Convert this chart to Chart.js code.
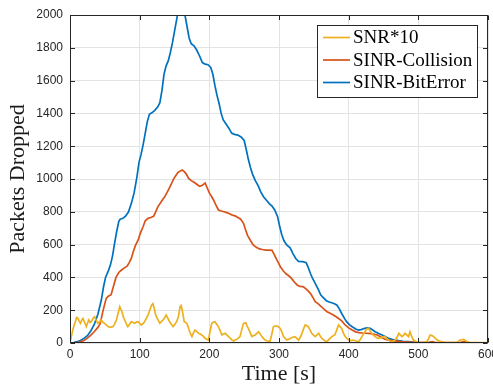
<!DOCTYPE html>
<html><head><meta charset="utf-8">
<script src="https://cdn.jsdelivr.net/npm/chart.js@4/dist/chart.umd.min.js"></script>
<style>html,body{margin:0;padding:0;background:#fff}</style>
</head><body>
<canvas id="c" width="493" height="385"></canvas>
<script>
const seriesLabels = ['SNR*10', 'SINR-Collision', 'SINR-BitError'];
const xLabel = 'Time [s]';
const yLabel = 'Packets Dropped';

const snrTime = [0,2,4,6,7.7,9.5,11.5,13,15,17,18.7,21,23.5,25,27,29,30.6,33,35.4,37.5,40,42.5,45,47.5,49.8,52,54.6,58,61.8,64,66.6,69,71.4,73,74.7,76.5,78.5,81,83,85.5,88,90.5,93,95.5,97.7,100,102.5,105,107,109.5,112,114.5,117,119,121,122.5,124,126.5,129,131,133.6,136,138,140.5,143,145.5,148,150.5,153,155.6,158,159.5,161,162.5,164,167.6,169.5,171,173,175,177,179.6,182,184.4,187,189,191.5,194,196,198.7,201,203.5,206,208,210.5,213,215.5,218,220,222.7,225,227.5,230,232.3,235,237,240.5,244,246.5,249,252.4,254,256,258.5,261,263.5,266,268.5,270.6,273,275.4,277.7,280,283.5,287,289.5,292,295.5,299,301.7,304,306.5,309,311,313.5,316,319.5,323,325.5,328,330.5,333,335.5,337.6,340,342,344.5,347,349.5,352,354.5,357,359.5,361.6,365,368.8,372.5,376,378,380,383,385.5,387.5,390,392.5,395,397.5,400,403.5,407,410.5,414,416.5,419,422,425,426.8,428.6,431,433,435.5,438,440.5,443,446.5,450,452.6,455,457.5,460,463.5,467,469.5,472,474,476.5,479,481,483.5,486,488,490.5,493,495.5,498,501,505,508.5,512,514.5,517,519.5,522,524.5,527,530.5,534,538.5,543,549,555,557.5,560,562.5,565,567.5,570,573.5,577,585,596,600];
const snrValues = [0,40,79,110,130,155,150,135,120,140,150,125,100,120,140,125,130,150,160,140,120,130,140,125,120,110,100,95,100,115,140,180,221,205,191,160,140,115,100,115,130,125,120,128,130,120,110,120,130,150,170,200,231,240,211,180,160,140,120,130,140,155,170,150,130,115,100,115,130,160,221,228,201,165,130,120,100,79,55,39,60,79,70,59,55,49,40,28,25,18,70,120,128,130,115,100,75,49,55,59,50,39,30,18,12,18,25,39,80,120,124,105,89,65,39,45,49,60,69,55,39,28,18,12,8,50,100,105,100,89,69,39,28,18,22,28,35,39,28,18,35,59,90,110,105,100,80,59,48,39,50,59,40,28,15,8,25,39,45,49,80,110,100,89,60,39,28,18,15,18,12,8,20,39,60,79,88,89,72,59,48,39,32,28,33,39,39,25,18,8,12,18,35,59,50,39,48,59,50,39,69,40,18,12,8,4,2,4,8,25,49,45,39,28,18,12,8,4,2,2,2,10,18,20,22,15,8,4,2,2,2,2];

const collisionTime = [0,5,10,16,20,25,30,35,40,43,45,47,50,52,55,59,62,66,70,74,78,82,85,88,91,94,98,101,105,108,112,116,120,123,126,130,133,136,139,142,145,148,151,155,158,161,164,167,170,174,178,182,186,190,194,197,200,203,206,209,213,217,221,225,229,233,237,241,245,249,252,255,259,263,267,271,276,281,286,290,293,296,299,302,306,310,314,318,322,326,330,335,340,345,349,352,356,361,365,369,374,378,382,386,390,395,400,405,410,415,420,428,435,441,447,452,458,463,468,475,485,495,505,515,520,525,540,560,565,570,585,600];
const collisionValues = [0,1,3,8,15,30,48,70,95,115,150,190,240,272,285,295,340,400,430,445,458,468,490,516,560,595,630,670,710,745,760,765,772,800,830,855,875,892,915,940,965,995,1015,1040,1048,1055,1045,1030,1005,990,980,968,955,962,975,945,915,895,872,845,811,805,800,795,788,780,775,765,755,730,690,655,625,598,585,575,570,566,566,565,540,515,490,465,440,422,410,394,372,354,345,343,325,303,275,252,240,221,205,191,180,171,160,148,135,110,92,79,68,63,61,59,55,49,35,23,17,14,12,8,6,4,3,4,8,3,2,3,8,3,1,0];

const bitErrorTime = [0,5,10,15,20,25,30,35,40,45,48,51,55,58,61,64,67,70,72,76,80,84,88,92,96,99,102,105,108,111,114,118,122,126,129,132,135,138,141,144,147,150,153,156,159,162,165,168,171,174,178,182,186,190,194,198,202,205,208,211,214,217,220,224,228,232,236,241,246,250,253,256,259,262,266,270,274,278,282,286,290,294,298,301,304,307,311,316,320,324,328,334,339,342,345,348,352,356,360,364,368,372,378,383,387,390,394,397,401,405,410,414,418,422,426,431,435,438,443,448,453,457,462,467,472,478,485,492,500,510,520,540,600];
const bitErrorValues = [0,3,8,15,28,45,75,115,175,262,340,400,440,475,530,608,680,740,755,760,775,800,850,915,1010,1100,1150,1210,1280,1350,1395,1405,1420,1440,1465,1540,1640,1690,1720,1770,1830,1900,1970,2040,2080,2070,2000,1930,1860,1825,1812,1785,1750,1710,1700,1697,1680,1640,1570,1510,1460,1400,1360,1335,1310,1280,1272,1268,1255,1235,1180,1120,1070,1030,990,960,920,890,870,850,835,810,770,710,660,625,598,580,545,515,498,496,490,460,425,395,364,330,292,275,258,250,242,232,205,180,150,130,112,99,85,79,82,88,92,90,78,69,58,49,38,29,22,18,14,10,8,5,3,2,1,0,0];

const seriesTimes = [snrTime, collisionTime, bitErrorTime];
const seriesValues = [snrValues, collisionValues, bitErrorValues];
const seriesColors = ['#EDB120', '#D95319', '#0072BD'];

const frameColor = '#262626';

const datasets = seriesLabels.map((lab, i) => ({
  label: lab,
  data: seriesTimes[i].map((t, j) => ({x: t, y: seriesValues[i][j]})),
  borderColor: seriesColors[i],
  backgroundColor: seriesColors[i],
  borderWidth: 1.7,
  pointRadius: 0,
  tension: 0,
  fill: false
}));

const framePlugin = {
  id: 'frame',
  afterDatasetsDraw(chart) {
    const {ctx, chartArea: a, scales: {x, y}} = chart;
    ctx.save();
    ctx.strokeStyle = frameColor;
    ctx.lineWidth = 1;
    const L = Math.round(a.left) + 0.5, R = Math.round(a.right) - 0.5;
    const T = Math.round(a.top) + 0.5, B = Math.round(a.bottom) - 0.5;
    ctx.strokeRect(L, T, R - L, B - T);
    const tl = 4.5;
    ctx.beginPath();
    x.ticks.forEach(t => {
      const px = Math.round(x.getPixelForValue(t.value)) + 0.5;
      ctx.moveTo(px, B); ctx.lineTo(px, B - tl);
      ctx.moveTo(px, T); ctx.lineTo(px, T + tl);
    });
    y.ticks.forEach(t => {
      const py = Math.round(y.getPixelForValue(t.value)) + 0.5;
      ctx.moveTo(L, py); ctx.lineTo(L + tl, py);
      ctx.moveTo(R, py); ctx.lineTo(R - tl, py);
    });
    ctx.stroke();
    ctx.restore();
  },
  afterDraw(chart) {
    const {ctx, chartArea: a} = chart;
    const ds = chart.data.datasets;
    ctx.save();
    const boxR = a.right - 10.5, boxT = a.top + 10, boxW = 160.5, rowH = 22.5;
    const boxL = boxR - boxW, boxH = 72;
    ctx.fillStyle = '#ffffff';
    ctx.fillRect(boxL, boxT, boxW, boxH);
    ctx.strokeStyle = frameColor;
    ctx.lineWidth = 1;
    ctx.strokeRect(Math.round(boxL) + 0.5, Math.round(boxT) + 0.5, Math.round(boxW) - 1, Math.round(boxH));
    ctx.font = '19px "Liberation Serif", serif';
    ctx.textBaseline = 'middle';
    ctx.textAlign = 'left';
    ds.forEach((d, i) => {
      const cy = boxT + 12.5 + i * rowH;
      ctx.strokeStyle = d.borderColor;
      ctx.lineWidth = 1.7;
      ctx.beginPath();
      ctx.moveTo(boxL + 6, cy); ctx.lineTo(boxL + 33, cy);
      ctx.stroke();
      ctx.fillStyle = '#000';
      ctx.fillText(d.label, boxL + 36, cy + 1);
    });
    ctx.restore();
  }
};

const plainTick = v => String(v);

new Chart(document.getElementById('c'), {
  type: 'line',
  data: {datasets},
  options: {
    responsive: false,
    animation: false,
    devicePixelRatio: 1,
    layout: {padding: {top: 15, right: 5, left: 0, bottom: 0}},
    plugins: {legend: {display: false}, tooltip: {enabled: false}},
    scales: {
      x: {
        type: 'linear', min: 0, max: 600,
        ticks: {stepSize: 100, padding: 4, color: frameColor, callback: plainTick, font: {family: '"Liberation Sans", Arial, sans-serif', size: 12}, maxRotation: 0},
        grid: {color: '#e3e3e3', lineWidth: 1, drawTicks: false},
        border: {display: false},
        title: {display: true, text: xLabel, color: '#1a1a1a', font: {family: '"Liberation Serif", serif', size: 22, lineHeight: 1}, padding: {top: 0, bottom: 0}},
        afterFit(s) { s.height = 42; s.paddingLeft = 0; s.paddingRight = 0; }
      },
      y: {
        type: 'linear', min: 0, max: 2000,
        ticks: {stepSize: 200, padding: 7, color: frameColor, callback: plainTick, font: {family: '"Liberation Sans", Arial, sans-serif', size: 12}},
        grid: {color: '#e3e3e3', lineWidth: 1, drawTicks: false},
        border: {display: false},
        title: {display: true, text: yLabel, color: '#1a1a1a', font: {family: '"Liberation Serif", serif', size: 22, lineHeight: 1.2}, padding: {top: 5, bottom: 0}},
        afterFit(s) { s.width = 70; s.paddingTop = 0; s.paddingBottom = 0; }
      }
    }
  },
  plugins: [framePlugin]
});
</script>
</body></html>
